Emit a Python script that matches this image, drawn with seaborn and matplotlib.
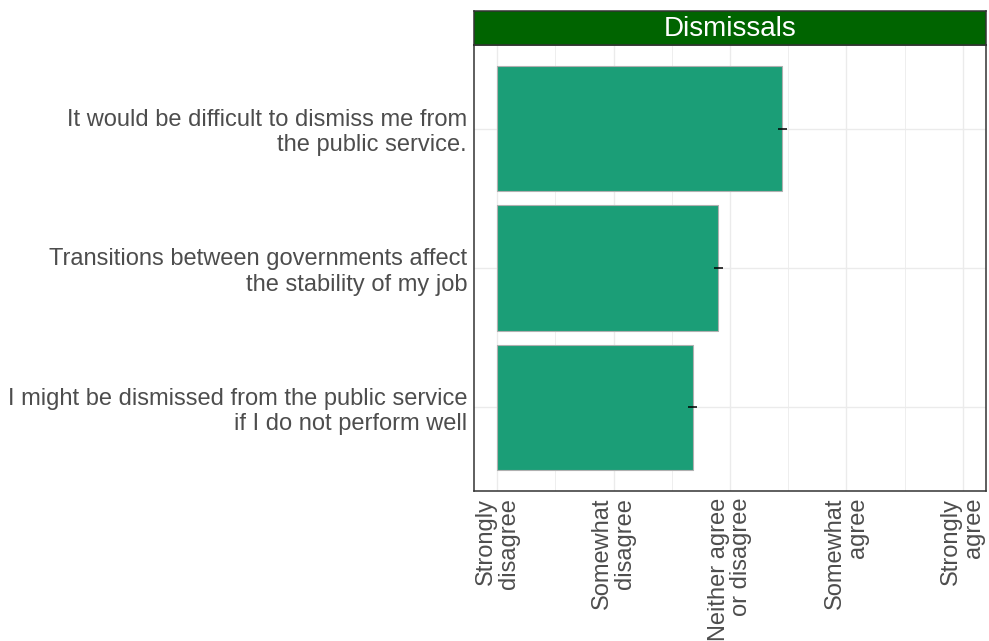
import numpy as np
import pandas as pd
import matplotlib
matplotlib.use("Agg")
import matplotlib.pyplot as plt
import seaborn as sns

# data
items = [
    "It would be difficult to dismiss me from\nthe public service.",
    "Transitions between governments affect\nthe stability of my job",
    "I might be dismissed from the public service\nif I do not perform well",
]
means = [3.45, 2.90, 2.68]
errs = [0.04, 0.04, 0.04]
tick_vals = [1, 2, 3, 4, 5]
tick_labels = ["Strongly\ndisagree", "Somewhat\ndisagree", "Neither agree\nor disagree",
               "Somewhat\nagree", "Strongly\nagree"]
panel_title = "Dismissals"

df = pd.DataFrame({"item": items, "mean": means, "err": errs})

sns.set_style("white")
plt.rcParams["font.family"] = ["Liberation Sans", "DejaVu Sans"]

fig = plt.figure(figsize=(9.89, 6.41), dpi=100)
ax = fig.add_axes([474 / 989, 1 - 491 / 641, (986 - 474) / 989, (491 - 45) / 641])

# bars start at 1 (Strongly disagree)
sns.barplot(data=df, y="item", x=df["mean"] - 1, left=1, orient="h", color="#1b9e77",
            saturation=1, width=0.9, edgecolor="#b0b0b0", linewidth=0.8, ax=ax, zorder=2)
ax.errorbar(df["mean"], np.arange(len(df)), xerr=df["err"], fmt="none",
            ecolor="black", elinewidth=1.1, capsize=0, zorder=3)

ax.set_xlim(0.8, 5.2)
ax.set_ylim(2.6, -0.6)
ax.set_xticks(tick_vals)
ax.set_xticklabels(tick_labels, rotation=90, ha="center", va="top", multialignment="right",
                   fontsize=17, color="#4d4d4d", linespacing=1.05)
ax.set_xticks([1.5, 2.5, 3.5, 4.5], minor=True)
ax.tick_params(axis="both", length=0, pad=5)
ax.tick_params(axis="y", labelsize=17, labelcolor="#4d4d4d")
for t in ax.get_yticklabels():
    t.set_multialignment("right")
    t.set_linespacing(1.18)
ax.grid(True, which="major", color="#ebebeb", linewidth=1, zorder=0)
ax.grid(True, which="minor", axis="x", color="#ebebeb", linewidth=0.6, zorder=0)
ax.set_axisbelow(True)
ax.set_xlabel("")
ax.set_ylabel("")
for s in ax.spines.values():
    s.set_color("#333333")
    s.set_linewidth(1.1)

# facet strip
sax = fig.add_axes([474 / 989, 1 - 45 / 641, (986 - 474) / 989, 34 / 641])
sax.set_facecolor("#006400")
sax.set_xticks([])
sax.set_yticks([])
for s in sax.spines.values():
    s.set_color("#333333")
    s.set_linewidth(1.1)
sax.text(0.5, 0.47, panel_title, color="white", fontsize=20, ha="center", va="center",
         transform=sax.transAxes)

fig.savefig("out.png", dpi=100)
